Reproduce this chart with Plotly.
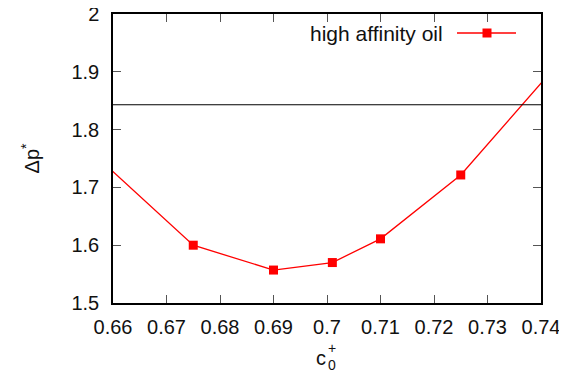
import plotly.graph_objects as go

# data
c0 = [0.65, 0.675, 0.69, 0.701, 0.71, 0.725, 0.75]
dp = [1.812, 1.600, 1.557, 1.570, 1.611, 1.7215, 1.986]
ref_level = 1.843
series_name = "high affinity oil"
x_ticks = [0.66, 0.67, 0.68, 0.69, 0.70, 0.71, 0.72, 0.73, 0.74]
x_ticktext = ["0.66", "0.67", "0.68", "0.69", "0.7", "0.71", "0.72", "0.73", "0.74"]
y_ticks = [1.5, 1.6, 1.7, 1.8, 1.9, 2.0]
y_ticktext = ["1.5", "1.6", "1.7", "1.8", "1.9", "2"]

FONT = "Liberation Sans, Arial, sans-serif"
OFF = 8  # browser body margin
W, H = 567 - OFF, 376 - OFF
L, R, T, B = 113 - OFF, 26, 14 - OFF, 73
pw, ph = W - L - R, H - T - B

def px(x):
    return (x - OFF - L) / pw

def py(y):
    return (H - B - (y - OFF)) / ph

fig = go.Figure()
fig.add_trace(go.Scatter(
    x=c0, y=dp, mode="lines+markers", name=series_name,
    line=dict(color="#ff0000", width=1.3),
    marker=dict(symbol="square", size=9, color="#ff0000"),
    cliponaxis=True, showlegend=False,
))

axis_common = dict(
    showgrid=False, zeroline=False, showline=True, linecolor="black", linewidth=1.5,
    mirror="ticks", ticks="inside", ticklen=8, tickcolor="#555", tickwidth=1,
    tickfont=dict(family=FONT, size=20, color="#111"), automargin=False,
    ticklabeloverflow="allow",
)
fig.update_xaxes(range=[0.66, 0.74], tickvals=x_ticks, ticktext=x_ticktext,
                 ticklabelstandoff=5, **axis_common)
fig.update_yaxes(range=[1.5, 2.0], tickvals=y_ticks, ticktext=y_ticktext,
                 ticklabelstandoff=8,
                 title=dict(text="Δp<sup>*</sup>", font=dict(family=FONT, size=20, color="#111"),
                            standoff=26),
                 **axis_common)

# reference horizontal line
fig.add_shape(type="line", xref="paper", x0=0, x1=1, yref="y", y0=ref_level, y1=ref_level,
              line=dict(color="black", width=1.2))

# legend (gnuplot style: text left, sample right)
ly = 33
fig.add_annotation(text=series_name, xref="paper", yref="paper", x=px(445), y=py(ly),
                   xanchor="right", yanchor="middle", showarrow=False,
                   font=dict(family=FONT, size=21, color="#111"))
fig.add_shape(type="line", xref="paper", yref="paper", x0=px(457), x1=px(516), y0=py(ly), y1=py(ly),
              line=dict(color="#ff0000", width=1.3))
fig.add_shape(type="rect", xref="paper", yref="paper", x0=px(482.5), x1=px(491.5),
              y0=py(ly - 4.5), y1=py(ly + 4.5), fillcolor="#ff0000", line=dict(width=0))

# x title c0+ with stacked sub/superscript
fig.add_annotation(text="c", xref="paper", yref="paper", x=px(321), y=py(358),
                   xanchor="center", yanchor="middle", showarrow=False,
                   font=dict(family=FONT, size=20, color="#111"))
fig.add_annotation(text="+", xref="paper", yref="paper", x=px(332), y=py(348),
                   xanchor="center", yanchor="middle", showarrow=False,
                   font=dict(family=FONT, size=14, color="#111"))
fig.add_annotation(text="0", xref="paper", yref="paper", x=px(332), y=py(365),
                   xanchor="center", yanchor="middle", showarrow=False,
                   font=dict(family=FONT, size=14, color="#111"))

fig.update_layout(
    width=W, height=H, margin=dict(l=L, r=R, t=T, b=B, autoexpand=False),
    plot_bgcolor="white", paper_bgcolor="white", showlegend=False,
)
fig.write_html("out.html")
